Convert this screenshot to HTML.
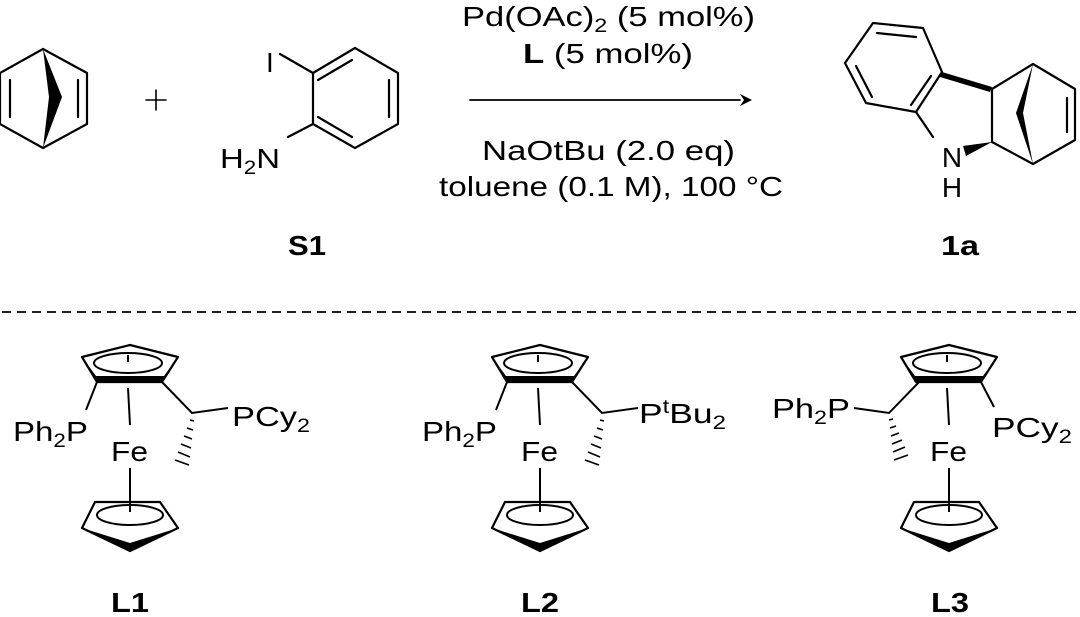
<!DOCTYPE html>
<html><head><meta charset="utf-8"><style>
html,body{margin:0;padding:0;background:#fff;}
svg{display:block;}
text{font-family:"Liberation Sans",Arial,sans-serif;fill:#000;}
</style></head><body>
<svg width="1080" height="617" viewBox="0 0 1080 617" xmlns="http://www.w3.org/2000/svg">
<defs>
<g id="cpTop">
  <polygon points="48,345 0,357 15,382 80,382 96,357" fill="none" stroke="#000" stroke-width="2.2" stroke-linejoin="round"/>
  <polygon points="0,357 15,382 80,382 96,357 82,376 14,376" fill="#000"/>
  <ellipse cx="46" cy="363" rx="34" ry="10" fill="none" stroke="#000" stroke-width="2"/>
  <line x1="46" y1="355" x2="46" y2="362" stroke="#000" stroke-width="2"/>
  <line x1="46" y1="388" x2="48" y2="425" stroke="#000" stroke-width="2"/>
  <text x="29" y="461" font-size="28" textLength="37" lengthAdjust="spacingAndGlyphs">Fe</text>
  <line x1="48" y1="468" x2="48" y2="512" stroke="#000" stroke-width="2"/>
  <polygon points="13,502 78,502 96,528 48,551 0,528" fill="none" stroke="#000" stroke-width="2.2" stroke-linejoin="round"/>
  <polygon points="0,528 48,551 96,528 48,543" fill="#000"/>
  <ellipse cx="48" cy="515" rx="33" ry="10" fill="none" stroke="#000" stroke-width="2"/>
</g>
</defs>
<g stroke="#000" stroke-width="2.2" fill="none" stroke-linecap="round" stroke-linejoin="round">
  <polyline points="43,49 0,73 0,124 43,148 87,124 87,73 43,49"/>
  <line x1="10" y1="80" x2="10" y2="117"/>
  <line x1="78" y1="80" x2="78" y2="117"/>
  <line x1="146" y1="100" x2="166" y2="100" stroke-width="1.6"/>
  <line x1="156" y1="90" x2="156" y2="110" stroke-width="1.6"/>
  <polygon points="355,48 398,73 398,124 355,148 313,124 313,73"/>
  <line x1="318" y1="80" x2="352" y2="60"/>
  <line x1="389" y1="80" x2="389" y2="117"/>
  <line x1="318" y1="117" x2="352" y2="137"/>
  <line x1="313" y1="73" x2="280" y2="54"/>
  <line x1="313" y1="124" x2="288" y2="137"/>
  <line x1="470" y1="100" x2="740" y2="100" stroke-width="1.8"/>
  <polygon points="873,23 923,28 942,72 916,112 866,103 845,63"/>
  <line x1="877" y1="33" x2="916" y2="37"/>
  <line x1="856" y1="66" x2="872" y2="97"/>
  <line x1="931" y1="76" x2="911" y2="105"/>
  <line x1="916" y1="112" x2="933" y2="137"/>
  <line x1="992" y1="89" x2="992" y2="142"/>
  <polyline points="992,89 1033,64 1075,89 1075,140 1033,164 992,142"/>
  <line x1="1067" y1="98" x2="1067" y2="132"/>
  <line x1="2" y1="312" x2="1078" y2="312" stroke-dasharray="9,6" stroke-width="1.8" stroke-linecap="butt"/>
</g>
<polygon points="43,49 62,97 43,148 49,97" fill="#000"/>
<polygon points="740,94 752,100 740,106 744,100" fill="#000"/>
<polygon points="942,72 992,87 990,92 940,77" fill="#000"/>
<polygon points="992,142 963,146 966,156" fill="#000"/>
<polygon points="1033,64 1016,113 1033,164 1023,113" fill="#000"/>

<text x="266" y="72" font-size="28">I</text>
<text x="220" y="168" font-size="28" textLength="60" lengthAdjust="spacingAndGlyphs">H<tspan font-size="19" dy="6">2</tspan><tspan dy="-6">N</tspan></text>
<text x="288" y="255" font-size="28" font-weight="bold" textLength="38" lengthAdjust="spacingAndGlyphs">S1</text>
<text x="462" y="26" font-size="28" textLength="293" lengthAdjust="spacingAndGlyphs">Pd(OAc)<tspan font-size="19" dy="6">2</tspan><tspan dy="-6"> (5 mol%)</tspan></text>
<text x="523" y="63" font-size="28" textLength="170" lengthAdjust="spacingAndGlyphs"><tspan font-weight="bold">L</tspan> (5 mol%)</text>
<text x="482" y="160" font-size="28" textLength="253" lengthAdjust="spacingAndGlyphs">NaOtBu (2.0 eq)</text>
<text x="439" y="196" font-size="28" textLength="344" lengthAdjust="spacingAndGlyphs">toluene (0.1 M), 100 °C</text>
<text x="952" y="167" font-size="28" text-anchor="middle">N</text>
<text x="952" y="197" font-size="28" text-anchor="middle">H</text>
<text x="941" y="255" font-size="28" font-weight="bold" textLength="38" lengthAdjust="spacingAndGlyphs">1a</text>

<!-- L1 -->
<use href="#cpTop" x="82" y="0"/>
<g stroke="#000" stroke-width="2" fill="none">
  <line x1="97" y1="382" x2="86" y2="410"/>
  <polyline points="162,382 192,413 228,408"/>
</g>
<g stroke="#000" stroke-width="1.6">
  <line x1="190" y1="420" x2="194" y2="421"/><line x1="187" y1="428" x2="193" y2="430"/><line x1="184" y1="436" x2="192" y2="439"/><line x1="181" y1="444" x2="191" y2="448"/><line x1="178" y1="452" x2="190" y2="457"/><line x1="175" y1="460" x2="189" y2="465"/>
</g>
<text x="13" y="441" font-size="28" textLength="75" lengthAdjust="spacingAndGlyphs">Ph<tspan font-size="19" dy="6">2</tspan><tspan dy="-6">P</tspan></text>
<text x="232" y="426" font-size="28" textLength="78" lengthAdjust="spacingAndGlyphs">PCy<tspan font-size="19" dy="6">2</tspan></text>
<text x="111" y="612" font-size="28" font-weight="bold" textLength="38" lengthAdjust="spacingAndGlyphs">L1</text>

<!-- L2 -->
<use href="#cpTop" x="492" y="0"/>
<g stroke="#000" stroke-width="2" fill="none">
  <line x1="507" y1="382" x2="496" y2="410"/>
  <polyline points="572,382 602,413 638,408"/>
</g>
<g stroke="#000" stroke-width="1.6">
  <line x1="600" y1="420" x2="604" y2="421"/><line x1="597" y1="428" x2="603" y2="430"/><line x1="594" y1="436" x2="602" y2="439"/><line x1="591" y1="444" x2="601" y2="448"/><line x1="588" y1="452" x2="600" y2="457"/><line x1="585" y1="460" x2="599" y2="465"/>
</g>
<text x="422" y="441" font-size="28" textLength="75" lengthAdjust="spacingAndGlyphs">Ph<tspan font-size="19" dy="6">2</tspan><tspan dy="-6">P</tspan></text>
<text x="639" y="423" font-size="28" textLength="87" lengthAdjust="spacingAndGlyphs">P<tspan font-size="19" dy="-10">t</tspan><tspan dy="10">Bu</tspan><tspan font-size="19" dy="6">2</tspan></text>
<text x="521" y="612" font-size="28" font-weight="bold" textLength="38" lengthAdjust="spacingAndGlyphs">L2</text>

<!-- L3 -->
<use href="#cpTop" x="901" y="0"/>
<g stroke="#000" stroke-width="2" fill="none">
  <polyline points="854,408 889,413 920,381"/>
  <line x1="981" y1="382" x2="994" y2="407"/>
</g>
<g stroke="#000" stroke-width="1.6">
  <line x1="889" y1="420" x2="893" y2="419"/><line x1="890" y1="428" x2="896" y2="426"/><line x1="891" y1="436" x2="899" y2="433"/><line x1="892" y1="444" x2="902" y2="440"/><line x1="893" y1="452" x2="905" y2="447"/><line x1="894" y1="460" x2="908" y2="455"/>
</g>
<text x="772" y="418" font-size="28" textLength="78" lengthAdjust="spacingAndGlyphs">Ph<tspan font-size="19" dy="6">2</tspan><tspan dy="-6">P</tspan></text>
<text x="992" y="437" font-size="28" textLength="80" lengthAdjust="spacingAndGlyphs">PCy<tspan font-size="19" dy="6">2</tspan></text>
<text x="931" y="612" font-size="28" font-weight="bold" textLength="38" lengthAdjust="spacingAndGlyphs">L3</text>
</svg>
</body></html>
